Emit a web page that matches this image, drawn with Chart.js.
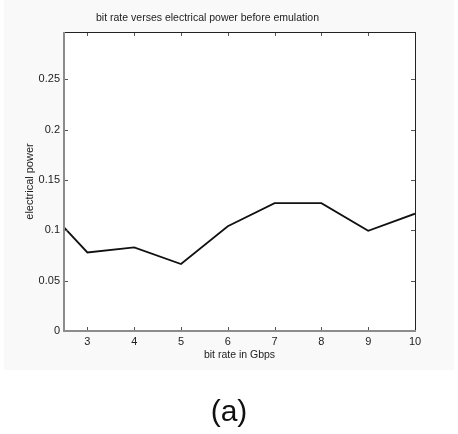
<!DOCTYPE html>
<html>
<head>
<meta charset="utf-8">
<script src="https://cdn.jsdelivr.net/npm/chart.js@4/dist/chart.umd.min.js"></script>
<style>
  html, body { margin: 0; padding: 0; background: #fff; }
  #wrap { position: relative; width: 458px; height: 434px; }
  #label { position: absolute; left: 0; width: 458px; top: 393px; text-align: center;
           font-family: "Liberation Sans", Arial, sans-serif; font-size: 30px; color: #111; line-height: 36px; }
</style>
</head>
<body>
<div id="wrap">
  <canvas id="grafico" width="458" height="434"></canvas>
  <div id="label">(a)</div>
</div>
<script>
// datos
var bitRate = [2.5, 3, 4, 5, 6, 7, 8, 9, 10];
var potencia = [0.103, 0.078, 0.083, 0.0665, 0.104, 0.127, 0.127, 0.0995, 0.1165];
var ticksX = [3, 4, 5, 6, 7, 8, 9, 10];
var ticksY = [0, 0.05, 0.1, 0.15, 0.2, 0.25];

var fuente = '"Liberation Sans", Arial, sans-serif';

// marco estilo matlab con ticks hacia adentro
var marco = {
    id: 'marco',
    beforeDraw: function(chart) {
        var ctx = chart.ctx, a = chart.chartArea;
        ctx.save();
        ctx.fillStyle = '#f9f9f9';
        ctx.fillRect(4, 0, 450, 370);
        ctx.fillStyle = '#ffffff';
        ctx.fillRect(a.left, a.top, a.right - a.left, a.bottom - a.top);
        ctx.restore();
    },
    afterDraw: function(chart) {
        var ctx = chart.ctx, a = chart.chartArea;
        var x = chart.scales.x, y = chart.scales.y;
        ctx.save();
        ctx.lineWidth = 1;
        ctx.strokeStyle = '#555';
        ticksX.forEach(function(v) {
            var px = Math.round(x.getPixelForValue(v)) + 0.5;
            ctx.beginPath();
            ctx.moveTo(px, a.bottom); ctx.lineTo(px, a.bottom - 4);
            ctx.moveTo(px, a.top); ctx.lineTo(px, a.top + 4);
            ctx.stroke();
        });
        ticksY.forEach(function(v) {
            var py = Math.round(y.getPixelForValue(v)) + 0.5;
            ctx.beginPath();
            ctx.moveTo(a.left, py); ctx.lineTo(a.left + 4, py);
            ctx.moveTo(a.right, py); ctx.lineTo(a.right - 4, py);
            ctx.stroke();
        });
        // bordes superior y derecho oscuros
        ctx.strokeStyle = '#222';
        ctx.beginPath();
        ctx.moveTo(a.left, a.top + 0.5); ctx.lineTo(a.right + 0.5, a.top + 0.5);
        ctx.lineTo(a.right + 0.5, a.bottom);
        ctx.stroke();
        // bordes izquierdo e inferior grises
        ctx.strokeStyle = '#8c8c8c';
        ctx.lineWidth = 2;
        ctx.beginPath();
        ctx.moveTo(a.left, a.top); ctx.lineTo(a.left, a.bottom);
        ctx.lineTo(a.right + 1, a.bottom);
        ctx.stroke();
        ctx.restore();
    }
};

new Chart(document.getElementById('grafico'), {
    type: 'line',
    data: {
        datasets: [{
            label: 'electrical power',
            data: bitRate.map(function(v, i) { return {x: v, y: potencia[i]}; }),
            borderColor: '#111',
            borderWidth: 1.8,
            pointRadius: 0,
            tension: 0,
            fill: false
        }]
    },
    options: {
        responsive: false,
        animation: false,
        layout: { padding: { left: 0, right: 43, top: 0, bottom: 73 } },
        plugins: {
            legend: { display: false },
            tooltip: { enabled: false },
            title: {
                display: true,
                text: 'bit rate verses electrical power before emulation',
                color: '#222',
                font: { family: fuente, size: 10.5, weight: 'normal', lineHeight: 1.2 },
                padding: { top: 12, bottom: 7.4 }
            }
        },
        scales: {
            x: {
                type: 'linear',
                min: 2.5,
                max: 10,
                afterBuildTicks: function(s) { s.ticks = ticksX.map(function(v) { return {value: v}; }); },
                afterFit: function(s) { s.height = 30; },
                grid: { display: false, drawTicks: false },
                border: { display: false },
                ticks: { color: '#222', padding: 4, maxRotation: 0, font: { family: fuente, size: 11 } },
                title: { display: true, text: 'bit rate in Gbps', color: '#222',
                         font: { family: fuente, size: 10.5, lineHeight: 1.2 }, padding: { top: 0, bottom: 0 } }
            },
            y: {
                min: 0,
                max: 0.297,
                afterBuildTicks: function(s) { s.ticks = ticksY.map(function(v) { return {value: v}; }); },
                afterFit: function(s) { s.width = 64; },
                grid: { display: false, drawTicks: false },
                border: { display: false },
                ticks: { color: '#222', padding: 4, font: { family: fuente, size: 11 },
                         callback: function(v) { return String(v); } },
                title: { display: true, text: 'electrical power', color: '#222',
                         font: { family: fuente, size: 11, lineHeight: 1.2 }, padding: { top: 23.4, bottom: 0 } }
            }
        }
    },
    plugins: [marco]
});
</script>
</body>
</html>
